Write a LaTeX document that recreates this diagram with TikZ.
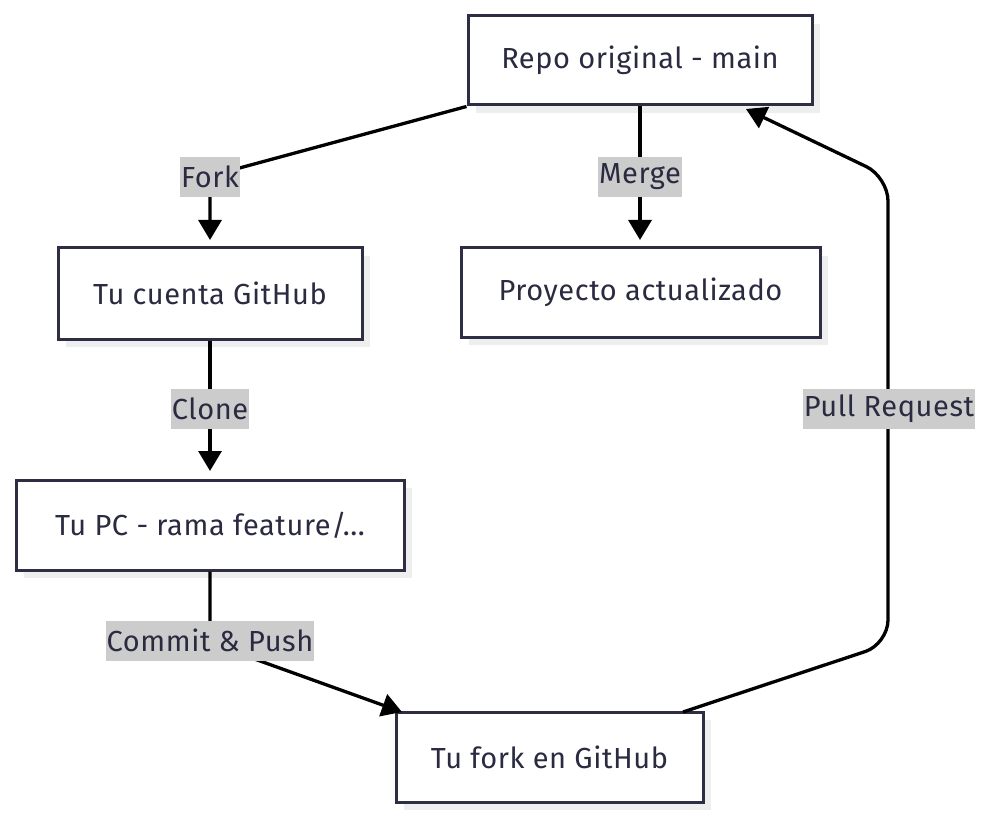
\documentclass[tikz,border=0pt]{standalone}
\usepackage{fontspec}
\setmainfont{Fira Sans}[LetterSpace=2]
\usetikzlibrary{arrows.meta,shadows}
\definecolor{ink}{RGB}{42,42,64}
\definecolor{boxline}{RGB}{45,45,68}
\definecolor{shade}{RGB}{238,238,238}
\definecolor{lblbg}{RGB}{204,204,204}
\begin{document}
\begin{tikzpicture}[x=1pt,y=-1pt,
  every node/.style={font=\fontsize{29}{34}\selectfont, text=ink},
  flowbox/.style={draw=boxline, line width=3pt, fill=white, inner sep=0pt,
    drop shadow={shadow xshift=8pt, shadow yshift=-8pt, fill=shade, opacity=1}},
  elabel/.style={fill=lblbg, inner xsep=1pt, inner ysep=0pt, minimum height=40pt},
  conn/.style={line width=3.3pt, draw=black, -{Triangle[length=20pt,width=23pt]}}]
\useasboundingbox (0,0) rectangle (993,818);
\node[flowbox, minimum width=344pt, minimum height=89pt] (repo) at (640,60.5) {Repo original - main};
\node[flowbox, minimum width=304pt, minimum height=91pt] (cuenta) at (210,293.5) {Tu cuenta GitHub};
\node[flowbox, minimum width=359pt, minimum height=89pt] (proy) at (640.5,292.5) {Proyecto actualizado};
\node[flowbox, minimum width=388pt, minimum height=90pt] (pc) at (210,525) {Tu PC - rama feature/...};
\node[flowbox, minimum width=307pt, minimum height=90pt] (fork) at (549.5,757) {Tu fork en GitHub};
% helper coordinates
\coordinate (forkbend) at (210,176);
\coordinate (forktip) at (210,240);
\coordinate (mergetip) at (640,240);
\coordinate (clonetip) at (210,471);
\coordinate (commitbend) at (210,643);
\coordinate (committip) at (402,712);
\coordinate (prstart) at (683,712);
\coordinate (prlow) at (888,644);
\coordinate (prhigh) at (888,177);
\coordinate (prtip) at (746,109);
% connectors
\draw[conn] (repo.south west) -- (forkbend) -- (forktip);
\draw[conn] (repo.south) -- (mergetip);
\draw[conn] (cuenta.south) -- (clonetip);
\draw[conn] (pc.south) -- (commitbend) -- (committip);
\draw[conn, rounded corners=24pt] (prstart) -- (prlow) -- (prhigh) -- (prtip);
% labels
\node[elabel] (lfork) at (210,177) {Fork};
\node[elabel] (lmerge) at (640,177) {Merge};
\node[elabel] (lclone) at (210,409) {Clone};
\node[elabel] (lcommit) at (210,640.5) {Commit \& Push};
\node[elabel] (lpr) at (889,409) {Pull Request};
\end{tikzpicture}
\end{document}
